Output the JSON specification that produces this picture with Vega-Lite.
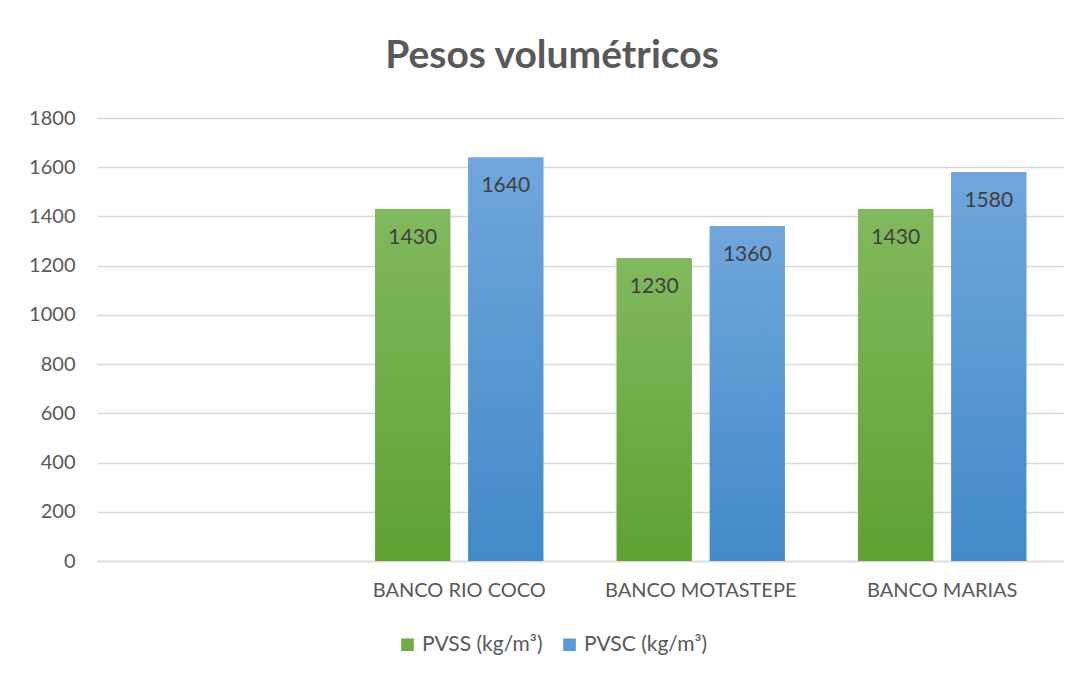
{
  "$schema": "https://vega.github.io/schema/vega-lite/v6.json",
  "autosize": "none",
  "width": 966,
  "height": 443,
  "padding": {"left": 97, "top": 118, "right": 21, "bottom": 116},
  "background": "white",
  "config": {
    "view": {"stroke": null},
    "font": "Lato"
  },
  "title": {
    "text": "Pesos volumétricos",
    "font": "Lato",
    "fontSize": 39,
    "fontWeight": "bold",
    "color": "#595959",
    "anchor": "middle",
    "frame": "group",
    "dx": -28,
    "offset": 32
  },
  "data": {
    "values": [
      {"banco": "BANCO RIO COCO", "serie": "PVSS (kg/m³)", "valor": 1430},
      {"banco": "BANCO RIO COCO", "serie": "PVSC (kg/m³)", "valor": 1640},
      {"banco": "BANCO MOTASTEPE", "serie": "PVSS (kg/m³)", "valor": 1230},
      {"banco": "BANCO MOTASTEPE", "serie": "PVSC (kg/m³)", "valor": 1360},
      {"banco": "BANCO MARIAS", "serie": "PVSS (kg/m³)", "valor": 1430},
      {"banco": "BANCO MARIAS", "serie": "PVSC (kg/m³)", "valor": 1580}
    ]
  },
  "encoding": {
    "x": {
      "field": "banco",
      "type": "nominal",
      "sort": null,
      "scale": {"domain": [" ", "BANCO RIO COCO", "BANCO MOTASTEPE", "BANCO MARIAS"], "paddingInner": 0.304, "paddingOuter": 0.152},
      "axis": {
        "title": null,
        "labelAngle": 0,
        "labelFontSize": 20,
        "labelLimit": 0,
        "labelColor": "#595959",
        "labelPadding": 19,
        "ticks": false,
        "domainColor": "#d9d9d9",
        "domainWidth": 1.5,
        "grid": false
      }
    },
    "xOffset": {
      "field": "serie",
      "type": "nominal",
      "sort": ["PVSS (kg/m³)", "PVSC (kg/m³)"],
      "scale": {"paddingInner": 0.194, "paddingOuter": 0}
    },
    "y": {
      "field": "valor",
      "type": "quantitative",
      "scale": {"domain": [0, 1800], "nice": false},
      "axis": {
        "title": null,
        "format": "d",
        "values": [0, 200, 400, 600, 800, 1000, 1200, 1400, 1600, 1800],
        "labelFontSize": 20,
        "labelColor": "#595959",
        "labelPadding": 22,
        "ticks": false,
        "domain": false,
        "gridColor": "#d9d9d9",
        "gridWidth": 1.5
      }
    }
  },
  "layer": [
    {
      "mark": {"type": "bar"},
      "encoding": {
        "color": {
          "field": "serie",
          "type": "nominal",
          "sort": ["PVSS (kg/m³)", "PVSC (kg/m³)"],
          "scale": {"domain": ["PVSS (kg/m³)", "PVSC (kg/m³)"], "range": ["#70ad47", "#5b9bd5"]},
          "legend": {
            "title": null,
            "orient": "none",
            "direction": "horizontal",
            "legendX": 300,
            "legendY": 516,
            "symbolType": "square",
            "symbolSize": 160,
            "symbolStrokeWidth": 0,
            "labelFontSize": 21,
            "labelLimit": 0,
            "labelColor": "#595959",
            "labelOffset": 4,
            "columnPadding": 16
          }
        }
      }
    },
    {
      "transform": [{"filter": "datum.serie === 'PVSS (kg/m³)'"}],
      "mark": {
        "type": "bar",
        "color": {
          "gradient": "linear", "x1": 0, "y1": 0, "x2": 0, "y2": 1,
          "stops": [{"offset": 0, "color": "#81b95d"}, {"offset": 1, "color": "#5fa133"}]
        }
      }
    },
    {
      "transform": [{"filter": "datum.serie === 'PVSC (kg/m³)'"}],
      "mark": {
        "type": "bar",
        "color": {
          "gradient": "linear", "x1": 0, "y1": 0, "x2": 0, "y2": 1,
          "stops": [{"offset": 0, "color": "#70a6dc"}, {"offset": 1, "color": "#428ac9"}]
        }
      }
    },
    {
      "mark": {"type": "text", "baseline": "middle", "dy": 29, "fontSize": 21, "color": "#404040"},
      "encoding": {
        "text": {"field": "valor", "type": "quantitative"}
      }
    }
  ]
}
